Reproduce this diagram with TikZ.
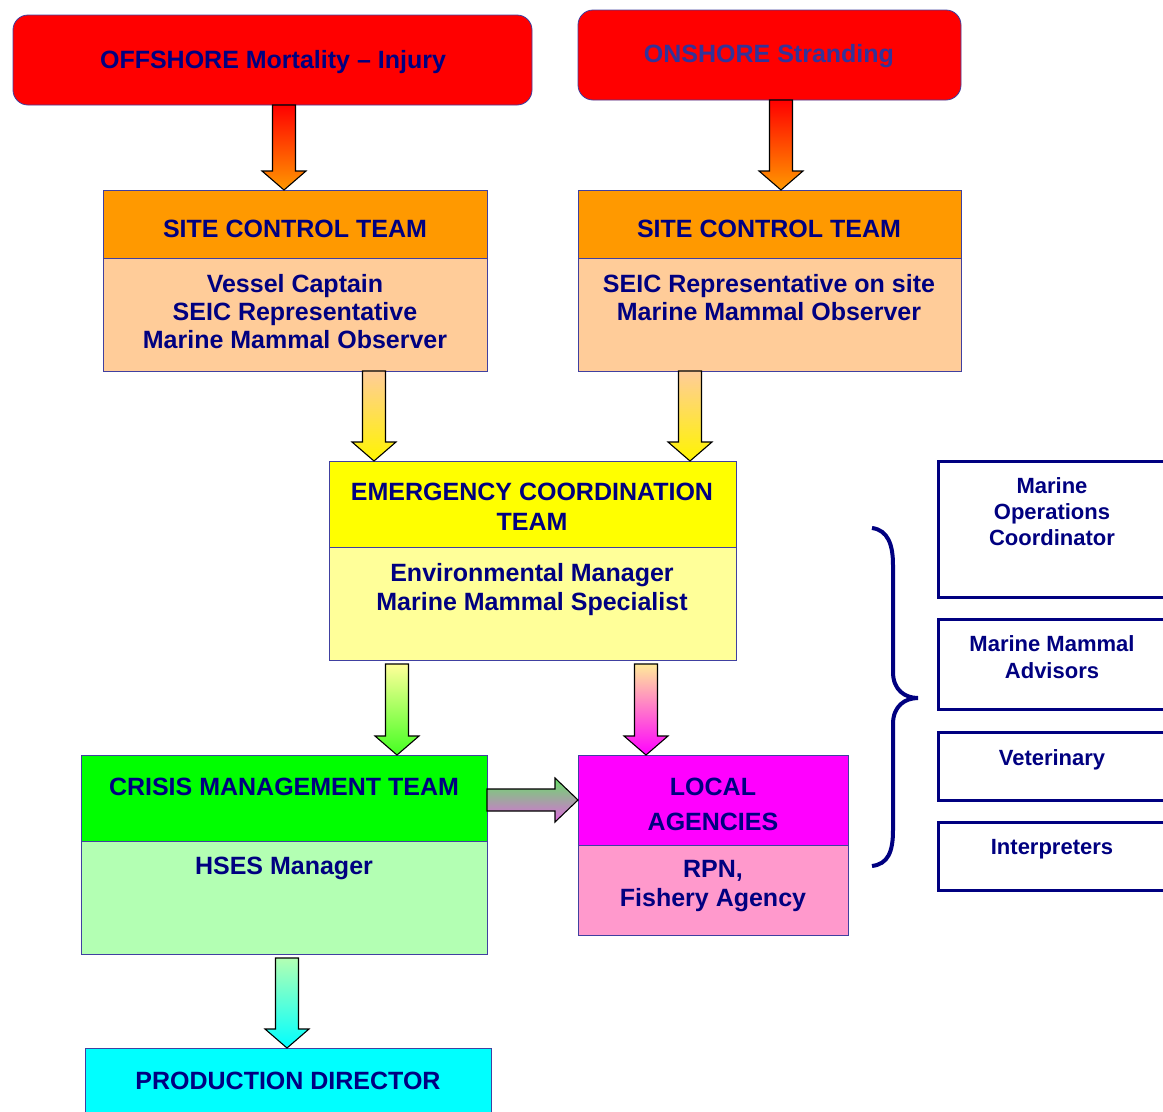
\documentclass[tikz,border=0pt]{standalone}
\usepackage{fontspec}
\setmainfont{Liberation Sans}
\usetikzlibrary{calc}
\definecolor{navyT}{HTML}{000080}
\definecolor{onshT}{HTML}{333399}
\definecolor{boxL}{HTML}{4040A0}
\definecolor{orangeH}{HTML}{FF9900}
\definecolor{peachB}{HTML}{FFCC99}
\definecolor{yellowH}{HTML}{FFFF00}
\definecolor{lemonB}{HTML}{FFFF99}
\definecolor{greenH}{HTML}{00FF00}
\definecolor{greenA}{HTML}{44FF22}
\definecolor{mintB}{HTML}{B3FFB3}
\definecolor{magentaH}{HTML}{FF00FF}
\definecolor{pinkB}{HTML}{FF99CC}
\definecolor{cyanH}{HTML}{00FFFF}
\definecolor{leafA}{HTML}{66E066}
\definecolor{orchA}{HTML}{E066E0}

% block arrow going down: [shading]{x}{from}{to}{gap}
\newcommand{\vblock}[5][]{%
  \path[blk,#1] let \p1=(#3), \p2=(#4) in
    (#2-11.5,\y1-#5) -- (#2+11.5,\y1-#5) -- (#2+11.5,\y2+19) -- (#2+22,\y2+19)
    -- (#2,\y2) -- (#2-22,\y2+19) -- (#2-11.5,\y2+19) -- cycle;}
% block arrow going right: [shading]{y}{from}{to}
\newcommand{\hblock}[4][]{%
  \path[blk,#1] let \p1=(#3), \p2=(#4) in
    (\x1,#2+11) -- (\x2-23,#2+11) -- (\x2-23,#2+22) -- (\x2,#2)
    -- (\x2-23,#2-22) -- (\x2-23,#2-11) -- (\x1,#2-11) -- cycle;}

\begin{document}
\begin{tikzpicture}[x=1pt,y=1pt,
  box/.style 2 args={draw=boxL, line width=0.8pt, minimum width=#1, minimum height=#2,
     anchor=north west, inner sep=0pt, outer sep=0pt},
  side/.style 2 args={box={#1}{#2}, draw=navyT, line width=3pt, fill=white},
  lbl/.style={font=\fontsize{25}{29}\selectfont\bfseries, text=navyT, align=center,
     anchor=north, inner sep=0pt},
  slbl/.style={lbl, font=\fontsize{22}{26}\selectfont\bfseries},
  blk/.style={draw=black, line width=1.1pt, line join=miter}]
  \useasboundingbox (0,0) rectangle (1163,-1112);
  \clip (0,0) rectangle (1163,-1112);

  % incident boxes
  \node[box={519pt}{90pt}, fill=red, rounded corners=15pt] (off) at (13,-15) {};
  \node[box={383pt}{90pt}, fill=red, rounded corners=15pt] (on) at (578,-10) {};
  \node[lbl] (offT) at (273,-50) {OFFSHORE Mortality – Injury};
  \node[lbl, text=onshT] (onT) at (769,-44) {ONSHORE Stranding};

  % site control teams
  \node[box={384pt}{68pt}, fill=orangeH] (sc1h) at (103,-190) {};
  \node[box={384pt}{113pt}, fill=peachB] (sc1b) at (103,-258) {};
  \node[box={383pt}{68pt}, fill=orangeH] (sc2h) at (578,-190) {};
  \node[box={383pt}{113pt}, fill=peachB] (sc2b) at (578,-258) {};
  \node[lbl] (sc1hT) at (295,-220) {SITE CONTROL TEAM};
  \node[lbl, font=\fontsize{25}{28}\selectfont\bfseries] (sc1bT) at (295,-274)
     {Vessel Captain\\SEIC Representative\\Marine Mammal Observer};
  \node[lbl] (sc2hT) at (769,-220) {SITE CONTROL TEAM};
  \node[lbl, font=\fontsize{25}{28}\selectfont\bfseries] (sc2bT) at (769,-274)
     {SEIC Representative on site\\Marine Mammal Observer};

  % emergency coordination
  \node[box={407pt}{86pt}, fill=yellowH] (ecth) at (329,-461) {};
  \node[box={407pt}{113pt}, fill=lemonB] (ectb) at (329,-547) {};
  \node[lbl, font=\fontsize{25}{30}\selectfont\bfseries] (ecthT) at (532,-483)
     {EMERGENCY COORDINATION\\TEAM};
  \node[lbl] (ectbT) at (532,-563) {Environmental Manager\\Marine Mammal Specialist};

  % crisis management and local agencies
  \node[box={406pt}{86pt}, fill=greenH] (cmth) at (81,-755) {};
  \node[box={406pt}{113pt}, fill=mintB] (cmtb) at (81,-841) {};
  \node[box={270pt}{90pt}, fill=magentaH] (lah) at (578,-755) {};
  \node[box={270pt}{90pt}, fill=pinkB] (lab) at (578,-845) {};
  \node[lbl] (cmthT) at (284,-778) {CRISIS MANAGEMENT TEAM};
  \node[lbl] (cmtbT) at (284,-857) {HSES Manager};
  \node[lbl, font=\fontsize{25}{35}\selectfont\bfseries] (lahT) at (713,-778)
     {LOCAL\\AGENCIES};
  \node[lbl] (labT) at (713,-860) {RPN,\\Fishery Agency};

  % production director
  \node[box={406pt}{72pt}, fill=cyanH] (pd) at (85,-1048) {};
  \node[lbl] (pdT) at (288,-1072) {PRODUCTION DIRECTOR};

  % advisors on the right
  \node[side={228pt}{136pt}] (mr1) at (938,-461) {};
  \node[side={228pt}{90pt}] (mr2) at (938,-619) {};
  \node[side={228pt}{68pt}] (mr3) at (938,-732) {};
  \node[side={228pt}{68pt}] (mr4) at (938,-822) {};
  \node[slbl] (mr1T) at (1052,-477) {Marine\\Operations\\Coordinator};
  \node[slbl, font=\fontsize{22}{27}\selectfont\bfseries] (mr2T) at (1052,-635)
     {Marine Mammal\\Advisors};
  \node[slbl] (mr3T) at (1052,-749) {Veterinary};
  \node[slbl] (mr4T) at (1052,-839) {Interpreters};

  % brace
  \draw[navyT, line width=4pt]
     (872,-528) .. controls (888,-530) and (893,-545) .. (893,-565) -- (893,-672)
     .. controls (893,-690) and (905,-698) .. (918,-698)
     .. controls (905,-698) and (893,-706) .. (893,-724) -- (893,-830)
     .. controls (893,-852) and (888,-864) .. (872,-866);

  % block arrows
  \vblock[top color=red, bottom color=orangeH]{284}{off.south}{sc1h.north}{0}
  \vblock[top color=red, bottom color=orangeH]{781}{on.south}{sc2h.north}{0}
  \vblock[top color=peachB, bottom color=yellowH!90!orangeH]{374}{sc1b.south}{ecth.north}{0}
  \vblock[top color=peachB, bottom color=yellowH!90!orangeH]{690}{sc2b.south}{ecth.north}{0}
  \vblock[top color=lemonB, bottom color=greenA]{397}{ectb.south}{cmth.north}{4}
  \vblock[top color=lemonB!60!peachB, bottom color=magentaH]{646}{ectb.south}{lah.north}{4}
  \vblock[top color=mintB, bottom color=cyanH]{287}{cmtb.south}{pd.north}{4}
  \hblock[top color=leafA, bottom color=orchA]{-800}{cmth.east}{lah.west}
\end{tikzpicture}
\end{document}
